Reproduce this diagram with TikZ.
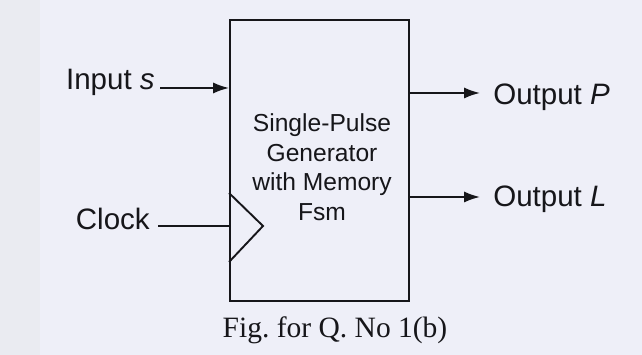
\documentclass[tikz,border=0pt]{standalone}
\usepackage{fontspec}
\setmainfont{Liberation Serif}
\newfontfamily\arialfont{Liberation Sans}
\usetikzlibrary{arrows.meta, calc}

\definecolor{paper}{RGB}{238,239,248}
\definecolor{paperedge}{RGB}{234,235,241}
\definecolor{ink}{RGB}{22,22,26}

\tikzset{
	sig/.style={draw=ink, line width=1.35pt},
	sigarrow/.style={sig, -{Latex[length=4mm,width=2.8mm]}},
	lbl/.style={inner sep=0pt, text=ink, font=\arialfont\fontsize{21}{25}\selectfont},
}

\begin{document}
\frenchspacing
\begin{tikzpicture}
		% scanned page background
		\fill[paper] (0,0) rectangle (16.05,8.875);
		\fill[paperedge] (0,0) rectangle (1.0,8.875);
		\useasboundingbox (0,0) rectangle (16.05,8.875);
		
		\node[
		draw=ink, line width=1.5pt,
		minimum width=4.475cm, minimum height=7.025cm,
		inner sep=0pt,
		] (fsm) at (7.99,4.86) {};
		\node[
		text=ink, align=center, inner sep=0pt,
		font=\arialfont\fontsize{17.5}{21}\selectfont,
		] (gen) at (8.05,4.69) {Single-Pulse\\Generator\\with Memory\\Fsm};
		
		\node[lbl, anchor=base east] (ins) at (3.875,6.625) {Input \textit{s}};
		\node[lbl, anchor=base east] (clk) at (3.75,3.125) {Clock};
		\node[lbl, anchor=base west] (outp) at (12.325,6.25) {Output \textit{P}};
		\node[lbl, anchor=base west] (outl) at (12.325,3.7) {Output \textit{L}};
		
		\coordinate (inS) at (4.0,6.675);
		\coordinate (clkS) at (3.95,3.225);
		\coordinate (outP) at (12.0,6.55);
		\coordinate (outL) at (12.0,3.95);
		
		\draw[sigarrow] (inS) -- (inS -| fsm.west);
		\draw[sig] (clkS) -- (clkS -| fsm.west);
		\draw[sigarrow] (outP -| fsm.east) -- (outP);
		\draw[sigarrow] (outL -| fsm.east) -- (outL);
		
		% clock input triangle
		\draw[sig, line join=miter]
		($(fsm.west |- 0,4.05)$) -- (6.575,3.225) -- ($(fsm.west |- 0,2.325)$);
		
		\node[text=ink, inner sep=0pt, anchor=base,
		font=\fontsize{21}{25}\selectfont] (cap) at (8.375,0.425) {Fig. for Q. No 1(b)};
\end{tikzpicture}
\end{document}
